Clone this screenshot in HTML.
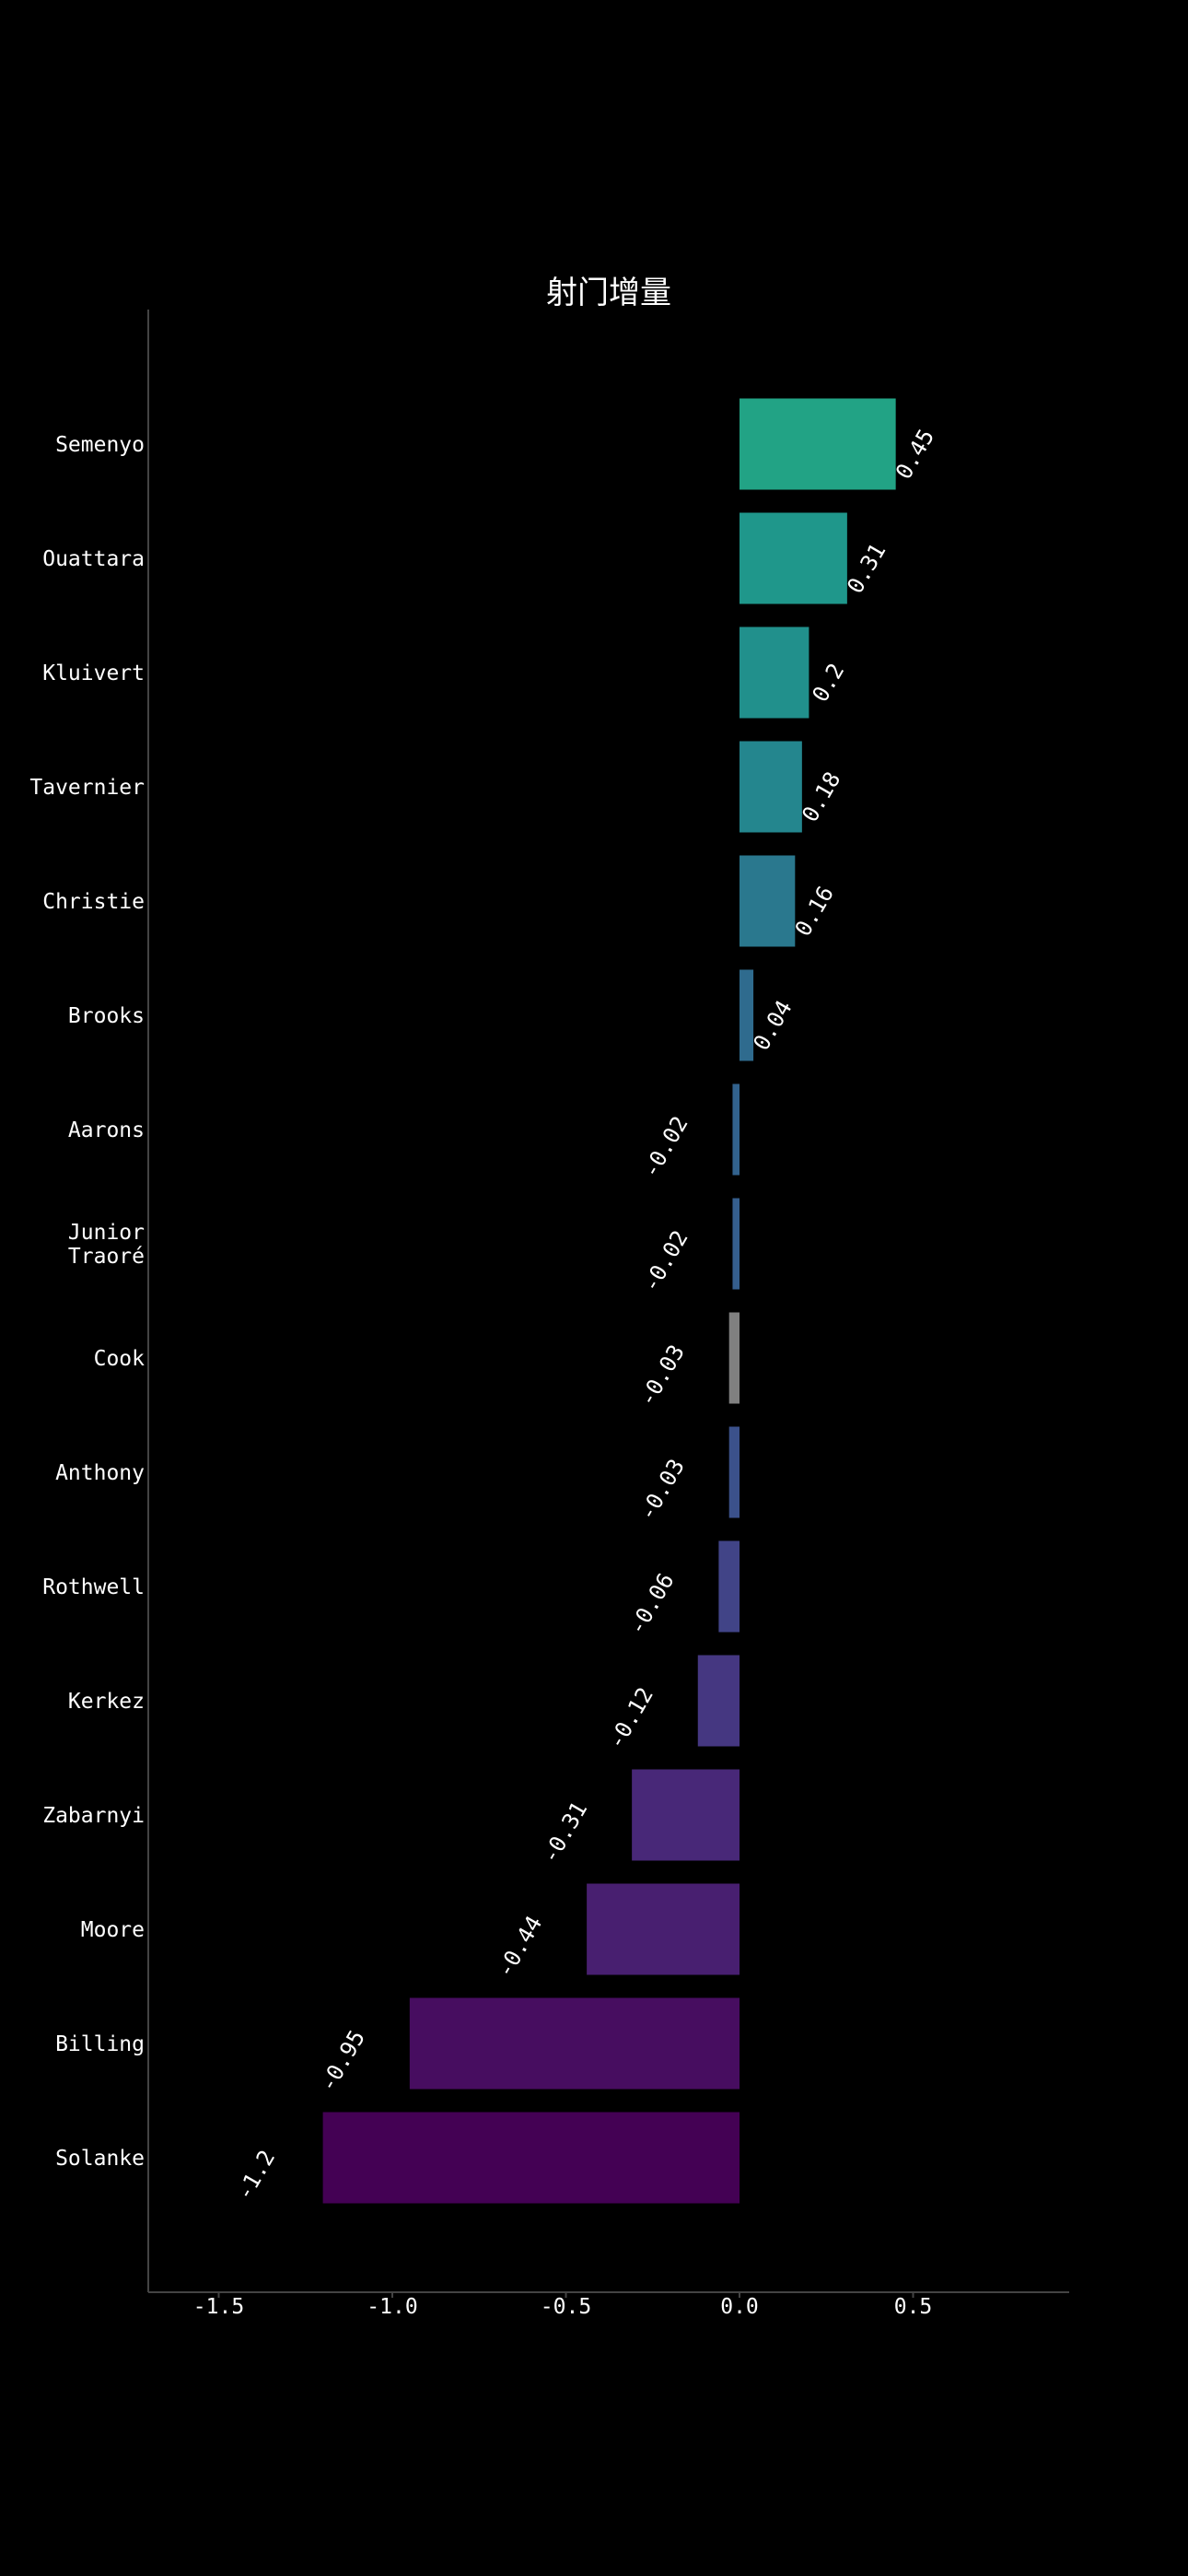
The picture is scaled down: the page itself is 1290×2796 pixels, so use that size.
<!DOCTYPE html>
<html><head><meta charset="utf-8"><style>
html,body{margin:0;padding:0;background:#000;}
svg{display:block;}
text{font-family:"DejaVu Sans Mono","Liberation Mono","Noto Sans CJK SC",monospace;fill:#fff;}
</style></head><body>
<svg id="chart" width="1290" height="2796" viewBox="0 0 1290 2796" xmlns="http://www.w3.org/2000/svg">
<rect width="1290" height="2796" fill="#000"/>
<text x="661" y="329" text-anchor="middle" font-size="34" style="font-family:'Noto Sans CJK SC',sans-serif">射门增量</text>
<line x1="161" y1="336" x2="161" y2="2488" stroke="#444" stroke-width="2"/>
<line x1="161" y1="2488" x2="1161" y2="2488" stroke="#444" stroke-width="2"/>
<g id="bars"></g><g id="labels"></g><g id="ticks"></g>
</svg>
<script>
const players = ["Semenyo","Ouattara","Kluivert","Tavernier","Christie","Brooks","Aarons","Junior\nTraoré","Cook","Anthony","Rothwell","Kerkez","Zabarnyi","Moore","Billing","Solanke"];
const values = [0.45,0.31,0.2,0.18,0.16,0.04,-0.02,-0.02,-0.03,-0.03,-0.06,-0.12,-0.31,-0.44,-0.95,-1.2];
const valueLabels = ["0.45","0.31","0.2","0.18","0.16","0.04","-0.02","-0.02","-0.03","-0.03","-0.06","-0.12","-0.31","-0.44","-0.95","-1.2"];
const colors = ["#22a385","#1f978b","#21908c","#24868e","#2a788e","#2f6b8e","#32628d","#355e8d","#808080","#3b518b","#414487","#453781","#482878","#481f70","#470d60","#440154"];
const xTicks = [-1.5,-1.0,-0.5,0.0,0.5];
const xTickLabels = ["-1.5","-1.0","-0.5","0.0","0.5"];
const NS="http://www.w3.org/2000/svg";
const x = v => 803 + v*377;
const y = i => 482 + i*124;
const barH = 99;
const gB=document.getElementById('bars'), gL=document.getElementById('labels'), gT=document.getElementById('ticks');
function mk(t,a){const e=document.createElementNS(NS,t);for(const k in a)e.setAttribute(k,a[k]);return e;}
players.forEach((p,i)=>{
  const v=values[i], x0=Math.min(x(0),x(v)), w=Math.abs(x(v)-x(0));
  const r=mk('rect',{x:x0,y:y(i)-barH/2,width:Math.max(w,1),height:barH,fill:colors[i]});
  
  
  gB.appendChild(r);
  const lines=p.split('\n');
  const t=mk('text',{x:157,y:y(i)+8-(lines.length-1)*13,'text-anchor':'end','font-size':'23'});
  lines.forEach((ln,k)=>{const s=mk('tspan',{x:157,dy:k?26:0});s.textContent=ln;t.appendChild(s);});
  
  
  gL.appendChild(t);
  const cx = v>=0 ? x(v)+21 : x(v)-73, cy = v>=0 ? y(i)+11 : y(i)+19;
  const vt=mk('text',{x:cx,y:cy+8,'text-anchor':'middle','font-size':'24',transform:`rotate(-60 ${cx} ${cy})`});
  vt.textContent=valueLabels[i];
  
  
  gL.appendChild(vt);
});
xTicks.forEach((t,i)=>{
  const l=mk('line',{x1:x(t),y1:2488,x2:x(t),y2:2494,stroke:'#444','stroke-width':2});
  
  
  gT.appendChild(l);
  const tx=mk('text',{x:x(t),y:2511,'text-anchor':'middle','font-size':'23'});
  tx.textContent=xTickLabels[i];
  
  
  gT.appendChild(tx);
});
</script>
</body></html>
